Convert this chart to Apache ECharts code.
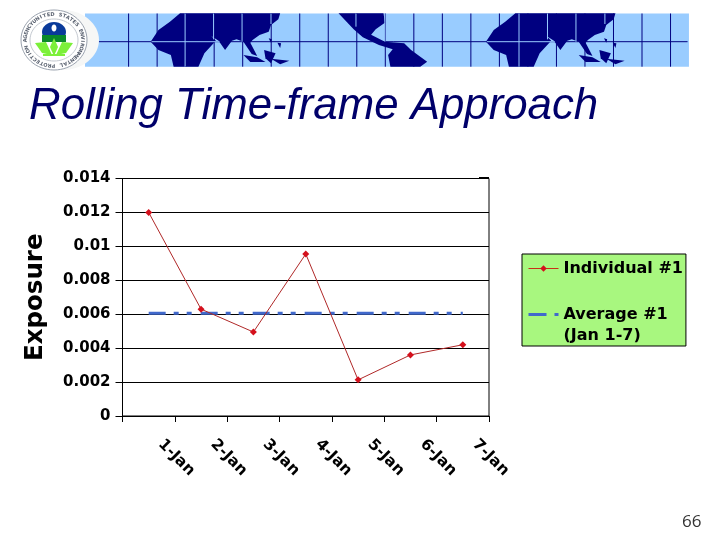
<!DOCTYPE html>
<html><head><meta charset="utf-8">
<style>html,body{margin:0;padding:0;background:#fff}#c{width:720px;height:540px}</style>
<script src="https://cdn.jsdelivr.net/npm/echarts@6/dist/echarts.min.js"></script>
</head><body><div id="c"></div>
<script>
const categories = ['1-Jan','2-Jan','3-Jan','4-Jan','5-Jan','6-Jan','7-Jan'];
const individual = [0.012,0.0063,0.00495,0.00955,0.00213,0.0036,0.0042];
const average = [0.00606,0.00606,0.00606,0.00606,0.00606,0.00606,0.00606];
const titleText = 'Rolling Time-frame Approach';
const pageNumber = '66';
const sealText = 'UNITED STATES ENVIRONMENTAL PROTECTION AGENCY';

const bold = '"DejaVu Sans"';
const navy = '#000080', sky = '#99ccff';
// banner helper: banner sketch coordinates to page pixels
const bx = v => v * 0.4593, by = v => v / 3;
const poly = (pts, fill, z) => ({type:'polygon', z:z||2, silent:true,
  shape:{points:pts.map(p=>[bx(p[0]),by(p[1])])}, style:{fill}});
const eurasia = [[392,40],[610,40],[606,58],[590,75],[585,95],[565,105],[550,120],[545,128],[560,168],[548,162],[530,125],[515,118],[505,122],[490,150],[476,122],[460,108],[470,122],[445,160],[432,200],[378,200],[372,165],[345,150],[328,125],[345,90],[370,65]];
const islands = [[[530,165],[560,172],[578,186],[545,186]],[[575,150],[600,160],[590,190],[578,175]],[[590,176],[630,182],[610,193]],[[604,128],[612,130],[610,144]],[[585,115],[592,118],[590,128]]];
const america = [[737,40],[835,40],[838,68],[818,88],[808,104],[838,125],[880,130],[895,150],[930,185],[915,200],[850,200],[845,165],[855,148],[825,135],[790,112],[770,88]];
const banner = [];
banner.push({type:'rect', z:0, silent:true, shape:{x:bx(185),y:13.5,width:bx(1500-185),height:53.2}, style:{fill:sky}});
for (let i=0;i<20;i++){ const x=bx(280+i*62.1);
  banner.push({type:'line', z:1, silent:true, shape:{x1:x,y1:13.5,x2:x,y2:66.7}, style:{stroke:navy,lineWidth:1}});
}
banner.push({type:'line', z:1, silent:true, shape:{x1:bx(215),y1:41.7,x2:bx(1497),y2:41.7}, style:{stroke:navy,lineWidth:1}});
[0,730].forEach(dx=>{
  const sh = a => a.map(p=>[p[0]+dx,p[1]]);
  banner.push(poly(sh(eurasia),navy));
  islands.forEach(s=>banner.push(poly(sh(s),navy)));
  banner.push({type:'line',z:3,silent:true,shape:{x1:bx(330+dx),y1:41.7,x2:bx(478+dx),y2:41.7},style:{stroke:sky,lineWidth:1}});
  [403,465,527,590].forEach((x,i)=>{
    const ends=[200,118,125,72];
    banner.push({type:'line',z:3,silent:true,shape:{x1:bx(x+dx-(dx?3:0)),y1:13.5,x2:bx(x+dx-(dx?3:0)),y2:by(ends[i])},style:{stroke:sky,lineWidth:1}});
  });
});
banner.push(poly(america,navy));
[775,838].forEach(x=>banner.push({type:'line',z:3,silent:true,shape:{x1:bx(x),y1:13.5,x2:bx(x),y2:by(x==775?80:125)},style:{stroke:sky,lineWidth:1}}));
// seal
const sc = [54,40];
banner.push({type:'ellipse',z:4,silent:true,shape:{cx:62,cy:40,rx:37,ry:30},style:{fill:'#f6f7f6'}});
banner.push({type:'ellipse',z:4,silent:true,shape:{cx:sc[0],cy:sc[1],rx:33,ry:30},style:{fill:'#fff',stroke:'#9aa2ae',lineWidth:1}});
banner.push({type:'ellipse',z:4,silent:true,shape:{cx:sc[0],cy:sc[1],rx:24,ry:21},style:{fill:'#fff',stroke:'#c4c9d0',lineWidth:1}});
const chars = sealText.split('');
chars.forEach((ch,i)=>{
  const a = -Math.PI/2 - 0.75 + i/chars.length*2*Math.PI;
  banner.push({type:'text',z:5,silent:true,x:sc[0]+28.5*Math.cos(a),y:sc[1]+25.5*Math.sin(a),rotation:-(a+Math.PI/2),
    style:{text:ch,font:'bold 5px "DejaVu Sans"',fill:'#5a6270',align:'center',verticalAlign:'middle'}});
});
banner.push({type:'ellipse',z:5,silent:true,shape:{cx:54,cy:32,rx:12,ry:10},style:{fill:'#0a3a9a'}});
banner.push({type:'rect',z:5,silent:true,shape:{x:42,y:35,width:24,height:7},style:{fill:'#0a8a2a'}});
banner.push({type:'ellipse',z:6,silent:true,shape:{cx:54,cy:28,rx:2.5,ry:3.5},style:{fill:'#fff'}});
banner.push({type:'polygon',z:6,silent:true,shape:{points:[[54,38],[58,47],[54,56],[50,47]]},style:{fill:'#7cf03a'}});
banner.push({type:'polygon',z:6,silent:true,shape:{points:[[35,43],[46,42],[52,55],[42,53]]},style:{fill:'#7cf03a'}});
banner.push({type:'polygon',z:6,silent:true,shape:{points:[[73,43],[62,42],[56,55],[66,53]]},style:{fill:'#7cf03a'}});
banner.push({type:'rect',z:6,silent:true,shape:{x:43,y:54,width:22,height:2},style:{fill:'#7cf03a'}});
// chart corner mark
banner.push({type:'line',z:5,silent:true,shape:{x1:479,y1:178,x2:489,y2:178},style:{stroke:'#000',lineWidth:2}});
banner.push({type:'text',z:5,x:682,y:514,style:{text:pageNumber,font:'17px "Open Sans"',fill:'#333'}});

const chart = echarts.init(document.getElementById('c'),null,{renderer:'canvas'});
chart.setOption({
  animation:false, backgroundColor:'#fff',
  title:{text:titleText,left:29,top:85,padding:0,textStyle:{fontFamily:'"Liberation Sans"',fontStyle:'italic',fontWeight:'normal',fontSize:43.8,color:'#00006a'}},
  grid:{left:122.5,right:231,top:178.5,bottom:124,show:true,borderColor:'#000',borderWidth:1,backgroundColor:'#fff'},
  legend:{orient:'vertical',left:522,top:254,padding:[4,3,0,5],itemGap:4,itemWidth:30,itemHeight:8,
    backgroundColor:'#a8f77f',borderColor:'#000',borderWidth:1,
    formatter:n=>n.startsWith('Average')?'\n'+n:n,
    textStyle:{fontFamily:bold,fontWeight:'bold',fontSize:16,color:'#000',lineHeight:21},
    data:[{name:'Individual #1',lineStyle:{color:'#c83018',width:1}},
      {name:'Average #1\n(Jan 1-7)',itemStyle:{color:'transparent',borderWidth:0},lineStyle:{color:'#4169cc',width:3,type:[18,8,5,20]}}]},
  xAxis:{type:'category',data:categories,boundaryGap:true,
    axisLine:{lineStyle:{color:'#000',width:1}},axisTick:{show:true,length:6,alignWithLabel:false,lineStyle:{color:'#000'}},
    axisLabel:{rotate:-45,margin:14,padding:[0,0,0,17],interval:0,fontFamily:bold,fontWeight:'bold',fontSize:15.5,color:'#000'}},
  yAxis:{type:'value',min:0,max:0.014,interval:0.002,name:'Exposure',nameLocation:'middle',nameRotate:90,nameGap:74,
    nameTextStyle:{fontFamily:bold,fontWeight:'bold',fontSize:24.5,color:'#000'},
    axisLine:{show:true,lineStyle:{color:'#000'}},axisTick:{show:true,length:7,lineStyle:{color:'#000'}},
    axisLabel:{margin:12,fontFamily:bold,fontWeight:'bold',fontSize:15,color:'#000'},
    splitLine:{show:true,lineStyle:{color:'#000',width:1}}},
  series:[
    {name:'Average #1\n(Jan 1-7)',type:'line',data:average,symbol:'none',z:2,
      lineStyle:{color:'#4169cc',width:3,type:[17,8,5,8,5,9]},itemStyle:{color:'#4169cc'}},
    {name:'Individual #1',type:'line',data:individual,symbol:'diamond',symbolSize:7,z:3,
      lineStyle:{color:'#b02828',width:1},itemStyle:{color:'#d4101c'}}
  ],
  graphic:banner
});
</script></body></html>
